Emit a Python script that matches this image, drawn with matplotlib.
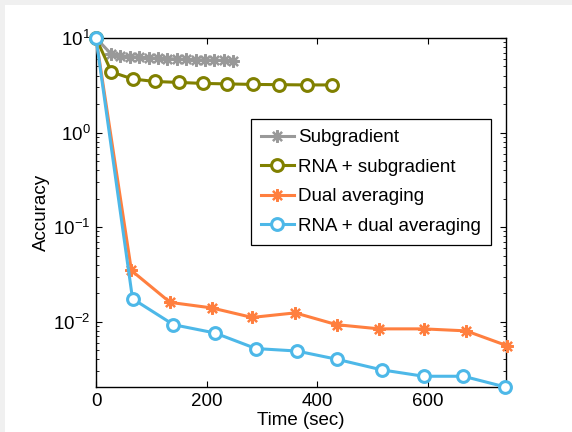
import matplotlib
matplotlib.use("Agg")
import matplotlib.pyplot as plt
from matplotlib.patches import Rectangle

plt.rcParams['font.family'] = ['Liberation Sans', 'DejaVu Sans']
plt.rcParams['mathtext.fontset'] = 'custom'
plt.rcParams['mathtext.rm'] = 'Liberation Sans'
plt.rcParams['mathtext.it'] = 'Liberation Sans:italic'

# Data
sub_t = [0, 27, 44, 61, 78, 95, 112, 129, 146, 163, 180, 197, 214, 231, 247]
sub_v = [10.0, 6.8, 6.5, 6.35, 6.25, 6.15, 6.1, 6.05, 6.0, 5.95, 5.9, 5.85, 5.82, 5.8, 5.77]

rsub_t = [0, 28, 66, 106, 150, 193, 237, 284, 330, 381, 426]
rsub_v = [10.0, 4.37, 3.69, 3.47, 3.39, 3.31, 3.27, 3.23, 3.21, 3.19, 3.19]

dual_t = [0, 64, 134, 209, 282, 360, 435, 512, 592, 669, 742]
dual_v = [10.0, 0.0348, 0.0160, 0.0140, 0.0111, 0.0124, 0.0093, 0.0084, 0.0084, 0.0080, 0.0056]

rdual_t = [0, 66, 140, 215, 289, 363, 436, 516, 592, 664, 740]
rdual_v = [10.0, 0.0175, 0.0093, 0.0076, 0.0052, 0.0049, 0.0040, 0.0031, 0.00265, 0.00265, 0.00204]

labels = ['Subgradient', 'RNA + subgradient', 'Dual averaging', 'RNA + dual averaging']
xticks = [0, 200, 400, 600]

c_gray = '#999999'
c_olive = '#808000'
c_orange = '#FF7F3F'
c_blue = '#4DB8E8'

fs = 13.5

fig = plt.figure(figsize=(5.72, 4.32), dpi=100, facecolor='#f0f0f0')
fig.patches.append(Rectangle((5/572, 0), 1, 1 - 5/432, transform=fig.transFigure,
                             facecolor='white', edgecolor='none', zorder=-10))
ax = fig.add_axes([96/572, 1 - 387/432, 410/572, 349/432])

lw = 2.2
star = (8, 2, 0)
ax.plot(sub_t, sub_v, color=c_gray, lw=lw, marker=star, ms=9, mew=1.6,
        label=labels[0], clip_on=False, zorder=3)
ax.plot(rsub_t, rsub_v, color=c_olive, lw=lw, marker='o', ms=8.5, mew=2.2,
        mfc='white', label=labels[1], clip_on=False, zorder=4)
ax.plot(dual_t, dual_v, color=c_orange, lw=lw, marker=star, ms=9, mew=1.6,
        label=labels[2], clip_on=False, zorder=5)
ax.plot(rdual_t, rdual_v, color=c_blue, lw=lw, marker='o', ms=8.5, mew=2.2,
        mfc='white', label=labels[3], clip_on=False, zorder=6)

ax.set_yscale('log')
ax.set_xlim(0, 741)
ax.set_ylim(0.00204, 10.0)
ax.set_xticks(xticks)
ax.set_xticklabels([str(v) for v in xticks])

ax.tick_params(which='both', direction='in', top=True, right=True, labelsize=fs)
ax.tick_params(which='major', length=4, width=0.8, pad=4)
ax.tick_params(which='minor', length=2.5, width=0.6)
for s in ax.spines.values():
    s.set_linewidth(1.0)

ax.set_xlabel('Time (sec)', fontsize=fs, labelpad=2)
ax.set_ylabel('Accuracy', fontsize=fs, labelpad=2)

leg = ax.legend(loc='upper right', bbox_to_anchor=(0.963, 0.768), fontsize=fs,
                frameon=True, fancybox=False, edgecolor='black', framealpha=1,
                numpoints=1, handlelength=1.75, labelspacing=0.66, borderpad=0.55,
                handletextpad=0.2, borderaxespad=0)
leg.get_frame().set_linewidth(0.9)

fig.savefig('out.png', dpi=100, facecolor=fig.get_facecolor())
